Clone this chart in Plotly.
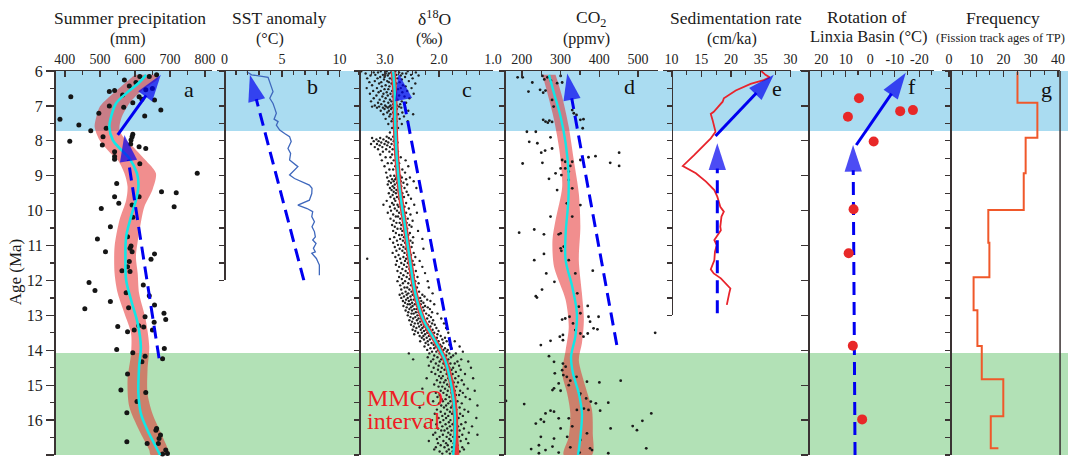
import plotly.graph_objects as go

# ---------------- data ----------------
age_ticks = list(range(6, 18))
blue_band = [6.0, 7.72]
green_band = [14.08, 17.0]

# a: summer precipitation (age, mm)
precip_pts = [(6.26,570),(6.16,614),(6.16,641),(6.11,662),(6.33,603),(6.43,584),(6.54,631),(6.50,650),(6.59,527),
 (6.56,542),(6.74,612),(6.74,417),(6.69,565),(6.83,656),(6.81,620),(6.91,594),(7.00,527),(7.04,568),(7.12,674),
 (7.21,497),(7.29,628),(7.38,386),(7.55,440),(7.64,518),(7.71,474),(7.81,594),(7.88,509),(7.88,592),(7.98,589),
 (8.01,414),(8.12,507),(8.09,588),(8.17,612),(8.22,631),(8.31,542),(8.45,542),(8.53,542),(8.66,614),(8.93,778),
 (9.22,548),(9.46,676),(9.49,718),(9.60,542),(9.60,612),(9.79,554),(9.94,504),(9.84,592),(9.89,712),(10.19,594),
 (10.46,530),(10.81,493),(10.75,579),(11.18,516),(11.01,589),(11.08,586),(11.18,592),(11.24,656),(11.39,646),
 (11.46,584),(11.61,579),(11.72,563),(11.74,586),(12.06,469),(12.13,624),(12.29,486),(12.35,575),(12.44,641),
 (12.60,530),(12.70,656),(12.81,457),(12.78,582),(12.94,683),(13.04,629),(13.12,688),(13.20,655),(13.32,551),
 (13.30,611),(13.33,625),(13.47,579),(13.42,598),(13.42,650),(13.98,548),(14.07,594),(13.95,684),(14.17,629),
 (14.24,679),(14.33,620),(14.68,579),(15.14,560),(15.21,631),(15.47,606),(15.79,577),(16.24,662),(16.29,660),
 (16.43,673),(16.53,669),(16.67,635),(16.62,577),(16.67,667),(16.86,688),(16.96,693),(16.97,679),(17.04,673),(17.08,652)]
a_band_left = [(6.11,600),(6.45,560),(6.74,527),(7.02,500),(7.31,490),(7.60,485),(7.98,499),(8.32,527),(8.55,551),
 (8.93,570),(9.31,579),(9.70,575),(10.27,556),(11.03,542),(11.80,542),(12.37,551),(12.94,570),(13.52,589),
 (14.09,589),(14.85,579),(15.62,584),(16.29,612),(16.86,641),(17.0,645)]
a_band_right = [(6.11,660),(6.21,667),(6.54,622),(6.93,584),(7.36,561),(7.69,556),(7.93,570),(8.26,603),(8.55,630),
 (8.93,660),(9.41,650),(9.89,627),(10.65,612),(11.32,603),(11.80,608),(12.37,612),(13.13,631),(13.90,641),
 (14.57,636),(15.24,636),(15.81,650),(16.48,679),(17.0,697)]
a_curve = [(6.11,632),(6.35,610),(6.64,575),(6.93,546),(7.31,532),(7.60,527),(7.98,537),(8.21,556),(8.50,584),
 (8.93,606),(9.31,610),(9.70,603),(10.17,589),(10.75,575),(11.42,573),(11.99,575),(12.56,589),(13.23,608),
 (13.90,617),(14.47,612),(15.24,610),(15.81,617),(16.29,636),(16.67,655),(17.0,672)]
a_arrow_solid = [(7.83,551),(6.11,674)]
a_arrow_dash = [(14.23,669),(7.83,570)]

# b: SST anomaly (age, degC)
sst_pts = [(6.02,1.93),(6.11,2.36),(6.18,3.79),(6.45,4.08),(6.59,4.22),(6.78,3.94),(6.93,4.22),(7.07,4.37),
 (7.21,4.51),(7.38,4.31),(7.45,4.66),(7.55,4.51),(7.69,4.80),(7.79,5.23),(7.88,5.66),(8.02,5.80),(8.22,5.52),
 (8.36,5.75),(8.55,5.66),(8.74,6.38),(8.84,6.09),(8.98,5.66),(9.08,6.09),(9.27,7.38),(9.36,7.61),(9.51,7.59),
 (9.70,7.38),(9.84,6.38),(9.94,7.18),(10.03,7.67),(10.17,7.59),(10.32,7.82),(10.46,7.61),(10.60,7.82),
 (10.75,7.90),(10.84,7.67),(10.94,7.96),(11.08,7.73),(11.18,7.90),(11.22,7.59),(11.37,7.99),(11.46,8.10),
 (11.56,8.25),(11.85,8.25)]
b_arrow_dash = [(12.0,6.9),(6.11,2.21)]

# c: delta18O (age, [permil values])
d18o_rows = [
 (6.01,[3.44,3.08,2.97,2.81,2.58]),(6.04,[3.21,3.13,2.89,2.74,2.43]),(6.07,[3.36,2.99,2.93,2.68,2.61]),
 (6.11,[3.18,3.04,2.86,2.79,2.52]),(6.13,[3.27,2.95,2.71,2.38]),(6.17,[3.09,3.01,2.84,2.63]),
 (6.21,[3.33,3.14,2.91,2.77,2.49]),(6.24,[3.02,2.87,2.69]),(6.29,[3.19,2.96,2.82,2.56]),
 (6.32,[3.29,3.07,2.93,2.73]),(6.36,[3.11,2.88,2.79,2.44]),(6.41,[3.24,2.99,2.85,2.67]),
 (6.44,[3.06,2.92,2.62]),(6.49,[3.34,3.15,2.83,2.71,2.51]),(6.52,[3.01,2.94,2.76]),
 (6.57,[3.22,3.08,2.87,2.59]),(6.61,[3.12,2.97,2.81,2.68]),(6.65,[3.28,3.03,2.90,2.47]),
 (6.70,[3.16,2.95,2.74]),(6.73,[3.05,2.86,2.64]),(6.78,[3.21,2.99,2.83,2.55]),(6.82,[3.10,2.91,2.77]),
 (6.87,[3.26,3.02,2.88,2.69]),(6.91,[3.13,2.94,2.80,2.61]),(6.95,[3.07,2.85,2.72]),(6.99,[3.19,3.00,2.90,2.78]),
 (7.02,[3.24,3.11,2.98,2.92,2.83,2.74]),(7.05,[3.15,3.04,2.95,2.87,2.70,2.63]),(7.09,[3.01,2.89,2.78]),
 (7.14,[3.08,2.93,2.81,2.57]),(7.19,[2.96,2.85,2.68]),(7.24,[3.03,2.90,2.76,2.48]),(7.30,[2.92,2.82,2.65]),
 (7.37,[2.99,2.86,2.73]),(7.44,[2.88,2.79,2.58]),(7.52,[2.94,2.83,2.69]),(7.63,[2.87,2.76]),(7.76,[2.91]),
 (7.88,[2.97,2.85]),(7.92,[3.24,3.09,2.93]),(7.96,[3.16,3.03,2.89,2.81]),(8.01,[3.21,3.12,2.98,2.84]),
 (8.05,[3.07,2.94,2.77]),(8.09,[3.26,3.15,3.01,2.88]),(8.13,[3.10,2.96,2.82]),(8.18,[3.19,3.05,2.91,2.79]),
 (8.24,[3.13,2.98,2.86]),(8.31,[3.04,2.92,2.76]),(8.39,[3.09,2.87,2.81]),(8.47,[2.99,2.90,2.71]),
 (8.56,[3.06,2.84,2.62]),(8.64,[2.95,2.88,2.74]),(8.73,[3.01,2.81,2.57]),(8.82,[2.92,2.85,2.68]),
 (8.91,[2.98,2.77,2.63]),(9.00,[2.90,2.83,2.72]),(9.05,[2.96,2.79,2.69,2.54]),(9.10,[2.87,2.81,2.75,2.61]),
 (9.16,[2.93,2.84,2.71,2.47]),(9.20,[2.89,2.78,2.66]),(9.25,[2.95,2.82,2.74,2.59]),(9.30,[2.86,2.76,2.70]),
 (9.35,[2.91,2.83,2.64,2.42]),(9.41,[2.88,2.79,2.73]),(9.46,[2.84,2.75,2.60]),(9.50,[2.93,2.80,2.68]),
 (9.55,[2.86,2.71,2.57]),(9.61,[2.90,2.78,2.65]),(9.66,[2.83,2.74,2.52]),(9.72,[2.97,2.81,2.69]),
 (9.78,[2.87,2.72,2.61]),(9.83,[3.03,2.84,2.77,2.46]),(9.89,[2.91,2.75,2.64]),(9.94,[2.82,2.70,2.56]),
 (10.00,[2.89,2.78,2.66]),(10.06,[2.95,2.74,2.61,2.41]),(10.11,[2.85,2.69,2.53]),(10.17,[2.80,2.76,2.63]),
 (10.23,[2.90,2.72,2.58]),(10.29,[2.84,2.67,2.49]),(10.35,[2.79,2.73,2.60]),(10.41,[2.87,2.70,2.55]),
 (10.46,[2.82,2.65,2.51]),(10.52,[2.77,2.71,2.59]),(10.58,[2.85,2.68,2.39]),(10.64,[2.80,2.62,2.54]),
 (10.70,[2.74,2.69,2.57]),(10.76,[2.83,2.65,2.48]),(10.81,[2.91,2.72,2.60,2.31]),(10.86,[2.78,2.67,2.53]),
 (10.92,[2.85,2.63,2.49]),(10.98,[2.76,2.70,2.58]),(11.04,[2.82,2.66,2.51]),(11.09,[2.73,2.62,2.29]),
 (11.15,[2.79,2.68,2.55]),(11.21,[2.86,2.64,2.47]),(11.27,[2.75,2.59,2.52]),(11.33,[2.81,2.66,2.44]),
 (11.38,[3.33,2.72,2.61,2.56]),(11.44,[2.78,2.63,2.49,2.36]),(11.50,[2.70,2.58,2.53]),(11.55,[2.80,2.65,2.46]),
 (11.61,[2.74,2.60,2.31]),(11.67,[2.68,2.55,2.50]),(11.73,[2.77,2.62,2.43]),(11.79,[2.71,2.58,2.26]),
 (11.85,[2.66,2.53,2.47]),(11.90,[2.74,2.60,2.40]),(11.96,[2.69,2.55,2.50]),(12.02,[2.77,2.63,2.44,2.21]),
 (12.08,[2.67,2.57,2.38]),(12.14,[2.72,2.52,2.46]),(12.20,[2.64,2.59,2.41,2.19]),(12.26,[2.70,2.55,2.48]),
 (12.32,[2.62,2.51,2.37]),(12.37,[2.68,2.57,2.44,2.12]),(12.41,[2.73,2.60,2.49,2.31]),
 (12.46,[2.65,2.53,2.45,2.27]),(12.50,[2.70,2.58,2.41,2.35]),(12.55,[2.61,2.52,2.47,2.22]),
 (12.59,[2.67,2.56,2.43,2.33,2.16]),(12.64,[2.63,2.50,2.39,2.29]),(12.68,[2.58,2.54,2.45,2.34,2.09]),
 (12.73,[2.66,2.49,2.41,2.26]),(12.77,[2.60,2.52,2.37,2.30,2.21]),(12.82,[2.55,2.46,2.42,2.17]),
 (12.86,[2.62,2.50,2.35,2.28]),(12.91,[2.57,2.43,2.38,2.13]),(12.95,[2.51,2.47,2.32,2.24,2.03]),
 (13.00,[2.58,2.40,2.35,2.19]),(13.05,[2.53,2.44,2.29,2.15]),(13.09,[2.48,2.38,2.33,2.22,1.96]),
 (13.14,[2.55,2.41,2.27,2.11]),(13.18,[2.50,2.35,2.30,2.18]),(13.23,[2.45,2.39,2.25,2.13,1.91]),
 (13.27,[2.52,2.33,2.21,2.08]),(13.32,[2.47,2.37,2.28,2.16]),(13.36,[2.42,2.31,2.19,2.05,1.87]),
 (13.41,[2.49,2.34,2.24,2.12]),(13.45,[2.44,2.28,2.17,2.01]),(13.50,[2.39,2.32,2.22,2.09,1.83]),
 (13.54,[2.46,2.26,2.14,2.03]),(13.59,[2.36,2.29,2.19,1.97]),(13.64,[2.32,2.23,2.11,2.04,1.89]),
 (13.69,[2.28,2.17,2.07,1.94]),(13.74,[2.35,2.21,2.01,1.86,1.71]),(13.79,[2.25,2.14,2.05,1.92]),
 (13.84,[2.20,2.10,1.98,1.81]),(13.89,[2.27,2.06,1.95,1.62]),(13.94,[2.16,2.09,1.89,1.77]),
 (13.99,[2.22,2.02,1.92,1.84]),(14.04,[2.13,2.05,1.86,1.56]),(14.09,[2.56,2.18,1.99,1.81,1.69]),
 (14.15,[2.09,1.94,1.87,1.74]),(14.20,[2.21,2.03,1.90,1.78]),(14.26,[2.48,2.11,1.96,1.83,1.59]),
 (14.32,[2.15,1.99,1.85,1.66,1.46]),(14.38,[2.06,1.92,1.79,1.71]),(14.44,[2.19,2.01,1.88,1.63]),
 (14.50,[2.10,1.95,1.81,1.74,1.41]),(14.56,[2.02,1.90,1.77,1.60]),(14.62,[2.14,1.97,1.84,1.69]),
 (14.68,[2.07,1.86,1.75,1.52]),(14.74,[2.00,1.93,1.80,1.64]),(14.80,[2.23,1.96,1.83,1.70,1.37]),
 (14.86,[2.04,1.88,1.76,1.58]),(14.92,[1.98,1.91,1.73,1.65]),(14.98,[2.09,1.85,1.78,1.54]),
 (15.04,[2.01,1.94,1.81,1.68]),(15.10,[2.31,1.89,1.74,1.47]),(15.16,[1.97,1.84,1.71,1.61,1.34]),
 (15.22,[2.06,1.92,1.77,1.56]),(15.28,[1.99,1.86,1.69,1.63]),(15.34,[2.03,1.81,1.74,1.51]),
 (15.40,[1.95,1.88,1.72,1.43]),(15.46,[2.11,1.93,1.79,1.66]),(15.52,[2.00,1.83,1.70,1.58]),
 (15.58,[1.96,1.87,1.75,1.29]),(15.64,[2.36,1.91,1.78,1.62]),(15.70,[2.04,1.85,1.68,1.53]),
 (15.76,[1.97,1.80,1.73,1.46]),(15.82,[2.08,1.89,1.76,1.61]),(15.88,[1.94,1.83,1.70,1.56]),
 (15.94,[2.01,1.87,1.64,1.31]),(16.00,[2.13,1.92,1.79,1.67]),(16.06,[1.98,1.82,1.72,1.51]),
 (16.12,[2.05,1.88,1.75,1.59]),(16.18,[2.26,1.94,1.80,1.65,1.39]),(16.24,[2.02,1.85,1.71,1.54]),
 (16.30,[1.96,1.90,1.77,1.62]),(16.36,[2.07,1.83,1.68,1.45]),(16.42,[2.11,1.93,1.79,1.57,1.29]),
 (16.48,[1.99,1.86,1.74,1.63]),(16.54,[2.04,1.81,1.69,1.50]),(16.60,[2.19,1.92,1.78,1.60]),
 (16.66,[2.02,1.87,1.73,1.46]),(16.72,[1.97,1.84,1.66]),(16.78,[2.06,1.90,1.76,1.57]),
 (16.84,[2.09,1.82,1.71,1.54]),(16.90,[1.99,1.86,1.75,1.62]),(16.96,[1.94,1.80,1.69])]
c_curve = [(6.02,2.85),(6.64,2.82),(7.60,2.81),(8.55,2.78),(9.51,2.72),(10.46,2.63),(11.42,2.54),(12.37,2.44),
 (13.13,2.29),(13.71,2.08),(14.28,1.89),(15.04,1.77),(15.81,1.71),(16.48,1.71),(17.0,1.74)]
c_red = [(6.02,2.85),(6.64,2.82),(7.60,2.81),(8.55,2.78),(9.51,2.72),(10.46,2.63),(11.42,2.54),(12.37,2.44),
 (13.13,2.29),(13.71,2.08),(14.28,1.89),(15.04,1.76),(15.81,1.70),(16.48,1.69),(17.0,1.67)]
c_arrow_dash = [(13.99,1.77),(6.07,2.75)]

# d: CO2 (age, ppmv)
co2_pts = [(6.18,189),(6.18,202),(6.33,227),(6.14,253),(6.24,258),(6.18,266),(6.28,275),(6.14,300),(6.33,304),
 (6.35,291),(6.59,217),(6.54,247),(6.62,255),(6.56,261),(6.83,278),(7.02,282),(7.40,255),(7.45,261),(7.48,267),
 (7.42,271),(7.46,278),(7.12,330),(7.21,334),(7.26,341),(7.40,351),(7.38,359),(7.64,357),(7.74,213),(7.74,236),
 (7.90,274),(8.07,240),(8.03,219),(8.22,278),(8.34,250),(8.28,260),(8.65,202),(8.63,253),(8.55,304),(8.60,312),
 (8.60,330),(8.55,351),(8.47,372),(8.44,390),(8.63,428),(8.34,451),(8.72,451),(8.79,300),(8.72,325),(8.93,287),
 (8.98,302),(9.09,270),(9.12,321),(9.36,330),(9.41,291),(9.84,351),(10.17,274),(10.54,232),(10.68,257),
 (10.63,193),(10.68,295),(11.08,300),(11.15,302),(11.24,257),(11.42,232),(11.72,383),(11.80,263),(12.04,284),
 (12.26,252),(12.45,236),(12.49,239),(12.73,370),(12.94,351),(13.04,372),(13.04,398),(13.12,304),(13.09,312),
 (13.04,323),(13.18,376),(13.37,385),(13.40,395),(13.56,306),(13.61,298),(13.61,359),(13.52,370),(13.50,544),
 (13.73,274),(13.85,249),(13.71,306),(13.92,557),(8.79,312),(8.88,321),(9.79,316),(10.17,330),(10.65,300),
 (11.03,308),(11.42,321),(11.80,338),(12.37,343),(12.75,347),(13.23,332),(13.42,338),(13.52,351),
 (14.17,270),(14.33,283),(14.38,306),(14.57,304),(14.66,285),(14.71,307),(14.76,316),(14.87,325),(14.95,295),
 (15.00,321),(15.09,283),(15.14,279),(15.16,300),(14.90,368),(14.92,400),(14.87,455),(15.45,159),(15.54,206),
 (15.28,349),(15.38,366),(15.47,378),(15.52,391),(15.50,423),(15.67,360),(15.71,372),(15.73,402),(15.73,274),
 (15.76,283),(15.81,261),(15.81,534),(15.98,249),(15.95,295),(15.95,321),(16.02,511),(16.10,236),(16.05,257),
 (16.24,300),(16.24,429),(16.17,486),(16.29,497),(16.48,249),(16.53,283),(16.72,244),(16.76,279),(16.83,224),
 (16.86,261),(16.78,325),(16.81,376),(16.86,381),(16.81,521),(16.93,295),(16.93,349),(16.95,423),(16.95,244),
 (14.47,313),(14.76,341),(15.24,351),(15.71,342),(16.18,330),(16.57,351),(16.38,368),(16.48,317)]
d_band_left = [(6.11,253),(6.64,266),(7.40,283),(8.36,298),(9.32,304),(10.27,287),(10.84,279),(11.61,283),
 (12.56,313),(13.33,321),(14.00,313),(14.66,304),(15.24,317),(15.81,325),(16.48,321),(17.0,308)]
d_band_right = [(6.11,287),(6.74,304),(7.60,321),(8.55,334),(9.51,347),(10.46,351),(11.42,347),(12.37,355),
 (13.13,360),(13.80,355),(14.28,347),(15.04,364),(15.71,381),(16.38,383),(17.0,381)]
d_curve = [(6.11,270),(6.64,283),(7.31,300),(8.07,313),(8.84,320),(9.70,320),(10.65,313),(11.42,313),(12.18,330),
 (12.94,342),(13.61,338),(14.19,327),(14.66,332),(15.24,347),(15.81,355),(16.48,351),(17.0,345)]
d_arrow_dash = [(13.85,445),(6.07,317)]

# e: sedimentation rate (age, cm/ka)
sed_pts = [(6.00,25.1),(6.11,25.8),(6.18,26.5),(6.26,25.5),(6.37,23.3),(6.56,20.8),(6.78,18.8),(6.88,18.6),
 (7.17,17.1),(7.23,16.6),(7.40,16.9),(7.64,17.2),(7.74,17.4),(7.93,16.6),(8.07,15.8),(8.24,14.7),(8.41,13.8),
 (8.72,11.9),(8.93,14.1),(9.17,15.8),(9.41,17.2),(9.60,17.7),(9.89,18.2),(10.03,18.8),(10.17,18.4),(10.46,18.2),
 (10.56,18.3),(10.84,17.2),(10.99,17.6),(11.18,17.3),(11.42,17.2),(11.68,16.6),(11.80,17.1),(11.94,18.3),
 (12.23,19.9),(12.37,19.7),(12.56,19.5),(12.70,19.3)]
e_arrow_solid = [(7.86,17.4),(6.11,27.2)]
e_arrow_dash = [(12.94,17.7),(8.07,17.7)]

# f: rotation of Linxia Basin (age, degrees)
rot_pts = [(6.78,4.6),(7.31,9.1),(7.15,-12.2),(7.12,-17.4),(8.02,-1.4),(9.96,6.8),(11.22,8.8),(13.87,7.1),(15.98,3.3)]
f_arrow_solid = [(8.12,5.7),(6.05,-14.5)]
f_arrow_dash = [(17.0,6.2),(8.12,7.0)]

# g: frequency of fission track ages (step start age, value)
freq_steps = [(6.02,25.1),(6.91,32.4),(7.91,28.1),(8.93,27.4),(9.98,14.4),(10.92,14.8),(11.91,9.0),(12.85,10.4),
 (13.88,12.0),(14.83,19.9),(15.89,15.3),(16.81,18.1)]

a_ticks = [400, 500, 600, 700, 800]
b_ticks = [0, 5, 10]
c_ticks = [3.0, 2.0, 1.0]; c_text = ['3.0', '2.0', '1.0']
d_ticks = [200, 300, 400, 500]
e_ticks = [10, 15, 20, 25, 30]; e_text = ['10', '15', '20', '35', '30']
f_ticks = [20, 10, 0, -10, -20]; f_text = ['20', '10', '0', '-10', '-20']
g_ticks = [0, 10, 20, 30, 40]

# ---------------- layout helpers ----------------
W, H = 1077, 460
ML, MR, MT, MB = 54, 0, 71, 5
PW, PH = W - ML - MR, H - MT - MB
A0, A1 = 6.0, 17.0
SERIF = "Liberation Serif, Times New Roman, serif"
AX = "#3a3333"
BLUE = "#0000F0"
CYAN = "#12E6E6"
BANDRED = "rgba(228,38,38,0.52)"
HEAD = 17.5
SUB = 16


def px(x):
    return min(max((x - ML) / PW, 0.0), 1.0)


def pxa(x):
    return (x - ML) / PW


def py(y):
    return (H - MB - y) / PH


def afrac(a):
    return (A1 - a) / (A1 - A0)


def split(pts):
    return [p[0] for p in pts], [p[1] for p in pts]


fig = go.Figure()


def ref(n):
    return ('x' if n == 1 else f'x{n}'), ('y' if n == 1 else f'y{n}')


def polygon(n, left, right):
    la, lv = split(left)
    ra, rv = split(right)
    xa, ya = ref(n)
    fig.add_trace(go.Scatter(x=lv + rv[::-1], y=la + ra[::-1], xaxis=xa, yaxis=ya, mode='lines',
                             fill='toself', fillcolor=BANDRED, line=dict(width=0, shape='spline', smoothing=0.8),
                             hoverinfo='skip', showlegend=False))


def line(n, pts, color, width, shape='spline', dash=None):
    a, v = split(pts)
    xa, ya = ref(n)
    fig.add_trace(go.Scatter(x=v, y=a, xaxis=xa, yaxis=ya, mode='lines',
                             line=dict(color=color, width=width, shape=shape, dash=dash),
                             hoverinfo='skip', showlegend=False, cliponaxis=False))


def dots(n, pts, size, color):
    a, v = split(pts)
    xa, ya = ref(n)
    fig.add_trace(go.Scatter(x=v, y=a, xaxis=xa, yaxis=ya, mode='markers',
                             marker=dict(size=size, color=color, line=dict(width=0)),
                             hoverinfo='skip', showlegend=False, cliponaxis=False))


def arrow(n, pts, dashed=False, head=28):
    a, v = split(pts)
    xa, ya = ref(n)
    fig.add_trace(go.Scatter(x=v, y=a, xaxis=xa, yaxis=ya, mode='lines+markers',
                             line=dict(color=BLUE, width=3, dash='13px,7px' if dashed else None),
                             marker=dict(symbol='arrow', size=[0, head], angleref='previous', color=BLUE,
                                         line=dict(width=0)),
                             hoverinfo='skip', showlegend=False, cliponaxis=False))


# ---------------- traces ----------------
# a
polygon(1, a_band_left, a_band_right)
dots(1, precip_pts, 5, '#151515')
line(1, a_curve, CYAN, 2.6)
arrow(1, a_arrow_dash, dashed=True)
arrow(1, a_arrow_solid)
# b
line(2, sst_pts, '#3f68bd', 1.3, shape='linear')
arrow(2, b_arrow_dash, dashed=True)
# c
c_age, c_val = [], []
for ag, vals in d18o_rows:
    for v in vals:
        c_age.append(ag)
        c_val.append(v)
fig.add_trace(go.Scatter(x=c_val, y=c_age, xaxis='x3', yaxis='y3', mode='markers',
                         marker=dict(size=2.4, color='#222222', line=dict(width=0)),
                         hoverinfo='skip', showlegend=False))
line(3, c_red, '#e83a3a', 5)
line(3, c_curve, CYAN, 2.4)
arrow(3, c_arrow_dash, dashed=True)
# d
polygon(4, d_band_left, d_band_right)
dots(4, co2_pts, 2.8, '#1a1a1a')
line(4, d_curve, CYAN, 2.4)
arrow(4, d_arrow_dash, dashed=True)
# e
line(5, sed_pts, '#e8242c', 1.8, shape='linear')
arrow(5, e_arrow_dash, dashed=True)
arrow(5, e_arrow_solid)
# f
arrow(6, f_arrow_dash, dashed=True)
arrow(6, f_arrow_solid)
dots(6, rot_pts, 10, '#e82828')
# g
line(7, freq_steps, '#f0582a', 2, shape='vh')

# ---------------- axes ----------------
panels = [
    dict(n=1, dom=(54, 213), rng=(369, 819), tv=a_ticks, tt=None, minor=[450, 550, 650, 750], yl=54, yb=17),
    dict(n=2, dom=(218, 344), rng=(-0.69, 10.17), tv=b_ticks, tt=None, minor=[1, 2, 3, 4, 6, 7, 8, 9], yl=226, yb=12),
    dict(n=3, dom=(357, 497), rng=(3.569, 1.0), tv=c_ticks, tt=c_text,
         minor=[3.5, 3.25, 2.75, 2.5, 2.25, 1.75, 1.5, 1.25], yl=362, yb=17),
    dict(n=4, dom=(506, 663), rng=(148.8, 550.4), tv=d_ticks, tt=None, minor=[250, 350, 450, 550], yl=508, yb=17),
    dict(n=5, dom=(668, 798), rng=(8.5, 30.17), tv=e_ticks, tt=e_text, minor=[12.5, 17.5, 22.5, 27.5], yl=677, yb=13),
    dict(n=6, dom=(807, 942), rng=(28.48, -26.06), tv=f_ticks, tt=f_text,
         minor=[25, 15, 5, -5, -15, -25], yl=815, yb=17),
    dict(n=7, dom=(950, 1069), rng=(-2.55, 40.73), tv=g_ticks, tt=None, minor=[5, 15, 25, 35], yl=958, yb=17),
]
axes = {}
for p in panels:
    n = p['n']
    xk = 'xaxis' if n == 1 else f'xaxis{n}'
    yk = 'yaxis' if n == 1 else f'yaxis{n}'
    xr, yr = ref(n)
    axes[xk] = dict(domain=[px(p['dom'][0]), px(p['dom'][1])], range=list(p['rng']), side='top', anchor=yr,
                    showline=True, linecolor=AX, linewidth=1.5, ticks='inside', ticklen=6, tickwidth=1.3,
                    tickcolor=AX, tickmode='array', tickvals=p['tv'],
                    ticktext=p['tt'] if p['tt'] else [str(t) for t in p['tv']],
                    minor=dict(tickmode='array', tickvals=p['minor'], ticks='inside', ticklen=4, tickwidth=1.1,
                               tickcolor=AX),
                    showgrid=False, zeroline=False, fixedrange=True,
                    tickfont=dict(family=SERIF, size=14, color='#222'))
    ydict = dict(domain=[afrac(p['yb']), 1], range=[p['yb'], A0], anchor='free', position=px(p['yl']),
                 showline=True, linecolor=AX, linewidth=1.5, ticks='outside', tickcolor=AX, tickwidth=1.3,
                 showgrid=False, zeroline=False, fixedrange=True)
    if n == 1:
        ydict.update(tickmode='array', tickvals=age_ticks, ticklen=8, showticklabels=True,
                     tickfont=dict(family=SERIF, size=16, color='#222'),
                     minor=dict(tickmode='array', tickvals=[t + 0.5 for t in age_ticks[:-1]], ticks='outside',
                                ticklen=4, tickwidth=1.2, tickcolor=AX))
    elif n == 6:
        ydict.update(tickmode='linear', tick0=6, dtick=1, ticklen=7, showticklabels=False)
    else:
        ydict.update(tickmode='linear', tick0=6, dtick=0.5, ticklen=5, showticklabels=False)
    axes[yk] = ydict

# ---------------- shapes ----------------
shapes = [
    dict(type='rect', xref='paper', yref='y', x0=0, x1=1, y0=blue_band[0], y1=blue_band[1],
         fillcolor='#AADCF1', line=dict(width=0), layer='below'),
    dict(type='rect', xref='paper', yref='y', x0=0, x1=1, y0=green_band[0], y1=green_band[1],
         fillcolor='#B2E1B6', line=dict(width=0), layer='below'),
    dict(type='line', xref='paper', yref='paper', x0=px(1069), x1=px(1069), y0=0, y1=1,
         line=dict(color=AX, width=1.5)),
]

# ---------------- annotations ----------------
ann = []


def text(t, x, y, size, color='#1a1a1a', xanchor='center', yanchor='middle', angle=0, height=None):
    d = dict(text=t, x=pxa(x), y=py(y), xref='paper', yref='paper', showarrow=False,
             xanchor=xanchor, yanchor=yanchor, textangle=angle,
             font=dict(family=SERIF, size=size, color=color))
    if height:
        d['height'] = height
    ann.append(d)


text('Summer precipitation', 130.5, 18, HEAD)
text('(mm)', 129, 39, SUB)
text('SST anomaly', 282, 18, HEAD)
text('(°C)', 272, 39, SUB)
text('δ<sup>18</sup>O', 438, 18, HEAD)
text('(‰)', 433, 39, SUB)
text('CO<sub>2</sub>', 596, 18, HEAD)
text('(ppmv)', 591, 39, SUB)
text('Sedimentation rate', 742, 18, HEAD)
text('(cm/ka)', 738, 39, SUB)
text('Rotation of', 874, 17, HEAD)
text('Linxia Basin (°C)', 876, 37, 16.5)
text('Frequency', 1011, 18, HEAD)
text('(Fission track ages of TP)', 1009, 38, 12.5)
text('Age (Ma)', 15, 272, 17, angle=-90)
for lt, lx, ly in [('a', 190, 89), ('b', 315, 87), ('c', 471, 89), ('d', 635, 87), ('e', 783, 88),
                   ('f', 920, 87), ('g', 1055, 89)]:
    text(lt, lx, ly, 22, color='#111')
text('MMCO', 368, 398, 24, color='#ee1c24', xanchor='left', height=22)
text('interval', 368, 421, 24, color='#ee1c24', xanchor='left', height=22)

fig.update_layout(width=W, height=H, margin=dict(l=ML, r=MR, t=MT, b=MB, pad=0),
                  paper_bgcolor='white', plot_bgcolor='rgba(0,0,0,0)', showlegend=False,
                  shapes=shapes, annotations=ann, **axes)

fig.write_html("out.html", config={'displayModeBar': False, 'staticPlot': True},
               post_script="document.body.style.margin='0';document.body.style.padding='0';")
